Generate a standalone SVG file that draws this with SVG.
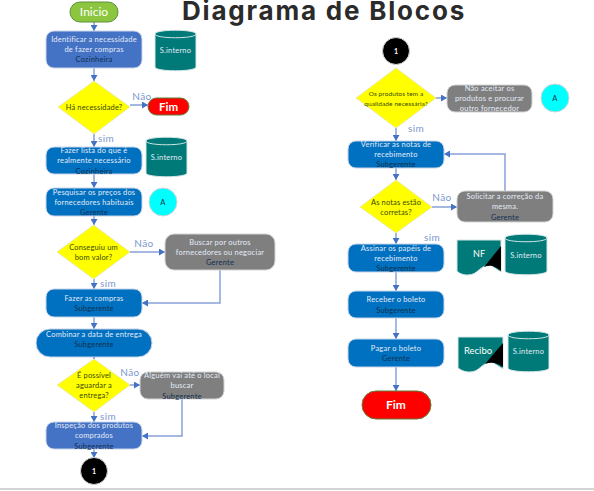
<svg xmlns="http://www.w3.org/2000/svg" width="594" height="491" viewBox="0 0 594 491">
<defs>
<marker id="ah" markerUnits="userSpaceOnUse" markerWidth="7" markerHeight="7" refX="6" refY="3.5" orient="auto"><path d="M0 0L6 3.5L0 7Z" fill="#4472C4"/></marker>
</defs>
<style>
text{font-family:Lato,"Liberation Sans",sans-serif;text-anchor:middle}
.t{font-size:7.5px;fill:#e3ebf7;letter-spacing:.2px}
.p{font-size:7.5px;fill:#10304f;letter-spacing:.2px}
.d{font-size:7.5px;fill:#3a4a00;letter-spacing:.15px}
.l{font-size:10px;fill:#7b97cf;letter-spacing:.4px}
.b{fill:#4472C4;stroke:#c9d5ea;stroke-width:1}
.c{fill:#0070C0;stroke:#c9d5ea;stroke-width:1}
.g{fill:#7f7f7f;stroke:#d4d4d4;stroke-width:1}
.y{fill:#FFFF00;stroke:#e3e3c0;stroke-width:.7}
.teal{fill:#007A78;stroke:#d5e5e5;stroke-width:1}
.top{fill:none;stroke:#cfe4e4;stroke-width:1}
.line{fill:none;stroke:#87a1d8;stroke-width:1.5;marker-end:url(#ah)}
.red{fill:#FF0000;stroke:#5f7f3a;stroke-width:1}
.fim{font-weight:700;fill:#fff}
</style>
<rect x="0" y="0" width="594" height="491" fill="#fff"/>
<rect x="0" y="488" width="594" height="2" fill="#d4d4d4"/>
<text id="title" x="324" y="20" style="font-family:Inter,'Liberation Sans',sans-serif;font-size:26px;font-weight:700;fill:#2b2b2b;letter-spacing:1.800px">Diagrama de Blocos</text>
<g id="connectors">
<path class="line" d="M94 22V31"/>
<path class="line" d="M94 68V81"/>
<path class="line" d="M130 105H148"/>
<path class="line" d="M94 134V147"/>
<path class="line" d="M94 174V188"/>
<path class="line" d="M94 216V225"/>
<path class="line" d="M130 252H165"/>
<path class="line" d="M94 279V289"/>
<path class="line" d="M220 270V303H142"/>
<path class="line" d="M94 317V329"/>
<path class="line" d="M94 357V359"/>
<path class="line" d="M130 385H140"/>
<path class="line" d="M94 412V422"/>
<path class="line" d="M182 399V436H142"/>
<path class="line" d="M94 449V458"/>
<path class="line" d="M436 98H447"/>
<path class="line" d="M396 128V141"/>
<path class="line" d="M396 168V180"/>
<path class="line" d="M432 207H457"/>
<path class="line" d="M505 191V154H444"/>
<path class="line" d="M396 233V244"/>
<path class="line" d="M396 272V291"/>
<path class="line" d="M396 318V339"/>
<path class="line" d="M396 367V391"/>
</g>
<g id="labels">
<text class="l" x="142" y="100">Não</text>
<text class="l" x="106" y="142">sim</text>
<text class="l" x="144" y="247">Não</text>
<text class="l" x="108" y="287">sim</text>
<text class="l" x="130" y="376">Não</text>
<text class="l" x="108" y="419.500">sim</text>
<text class="l" x="416" y="132">sim</text>
<text class="l" x="442" y="201">Não</text>
<text class="l" x="432" y="241">sim</text>
</g>
<g id="inicio"><rect x="70" y="2" width="48" height="20" rx="10" fill="#8CC63F" stroke="#5f8f3a"/><text x="94" y="16" style="font-size:12px;fill:#fff">Inicio</text></g>
<g id="n1"><rect class="b" x="46" y="31" width="96" height="37" rx="8"/><text class="t" x="94" y="42">Identificar a necessidade</text><text class="t" x="94" y="52">de fazer compras</text><text class="p" x="94" y="62">Cozinheira</text></g>
<g id="cyl1"><path class="teal" d="M155 34C155 29 196 29 196 34V67C196 72 155 72 155 67Z"/><path class="top" d="M155 34C155 39 196 39 196 34"/><text class="t" x="175.500" y="53">S.interno</text></g>
<g id="d1"><path class="y" d="M94 81L130 107L94 134L58 107Z"/><text class="d" x="94" y="110">Há necessidade?</text></g>
<g id="fim1"><rect class="red" x="148" y="98" width="41" height="17" rx="8.500"/><text class="fim" x="168.500" y="110.500" style="font-size:11.500px">Fim</text></g>
<g id="n2"><rect class="c" x="46" y="147" width="96" height="27" rx="8"/><text class="t" x="94" y="153">Fazer lista do que é</text><text class="t" x="94" y="163">realmente necessário</text><text class="p" x="94" y="174">Cozinheira</text></g>
<g id="cyl2"><path class="teal" d="M146 141C146 136 187 136 187 141V173C187 178 146 178 146 173Z"/><path class="top" d="M146 141C146 146 187 146 187 141"/><text class="t" x="166.500" y="160">S.interno</text></g>
<g id="n3"><rect class="c" x="46" y="188" width="96" height="28" rx="8"/><text class="t" x="94" y="195">Pesquisar os preços dos</text><text class="t" x="94" y="205">fornecedores habituais</text><text class="p" x="94" y="215">Gerente</text></g>
<g id="a1"><circle cx="163" cy="202" r="14" fill="#00FFFF" stroke="#d5d5d5"/><text class="p" x="163" y="205">A</text></g>
<g id="d2"><path class="y" d="M93.500 225L130 252L93.500 279L57 252Z"/><text class="d" x="93.500" y="250">Conseguiu um</text><text class="d" x="93.500" y="260">bom valor?</text></g>
<g id="g1"><rect class="g" x="165" y="234" width="110" height="36" rx="9"/><text class="t" x="220" y="245">Buscar por outros</text><text class="t" x="220" y="255">fornecedores ou negociar</text><text class="p" x="220" y="265">Gerente</text></g>
<g id="n4"><rect class="c" x="46" y="289" width="96" height="28" rx="8"/><text class="t" x="94" y="301">Fazer as compras</text><text class="p" x="94" y="311">Subgerente</text></g>
<g id="n5"><rect class="c" x="36" y="329" width="116" height="28" rx="14"/><text class="t" x="94" y="337">Combinar a data de entrega</text><text class="p" x="94" y="347">Subgerente</text></g>
<g id="d3"><path class="y" d="M94 359L130 385L94 412L57 385Z"/><text class="d" x="94" y="378">É possível</text><text class="d" x="94" y="388">aguardar a</text><text class="d" x="94" y="398">entrega?</text></g>
<g id="g2"><rect class="g" x="140" y="372" width="84" height="27" rx="8"/><text class="t" x="182" y="378">Alguém vai até o local</text><text class="t" x="182" y="388">buscar</text><text class="p" x="182" y="399">Subgerente</text></g>
<g id="n6"><rect class="b" x="46" y="422" width="96" height="27" rx="8"/><text class="t" x="94" y="428">Inspeção dos produtos</text><text class="t" x="94" y="438">comprados</text><text class="p" x="94" y="449">Subgerente</text></g>
<g id="c1"><circle cx="94" cy="471" r="13.500" fill="#000" stroke="#d5d5d5"/><text x="94" y="474" style="font-size:7px;fill:#fff;font-weight:700">1</text></g>
<g id="c2"><circle cx="396" cy="51" r="13.500" fill="#000" stroke="#d5d5d5"/><text x="396" y="54" style="font-size:7px;fill:#fff;font-weight:700">1</text></g>
<g id="d4"><path class="y" d="M396 68L436 98L396 128L356 98Z"/><text class="d" x="396" y="96" style="font-size:6.500px;letter-spacing:.1px">Os produtos tem a</text><text class="d" x="396" y="106" style="font-size:6.500px;letter-spacing:.1px">qualidade necessária?</text></g>
<g id="g3"><rect class="g" x="447" y="85" width="85" height="27" rx="8"/><text class="t" x="489.500" y="91">Não aceitar os</text><text class="t" x="489.500" y="101">produtos e procurar</text><text class="t" x="489.500" y="111">outro fornecedor</text></g>
<g id="a2"><circle cx="555" cy="98" r="14" fill="#00FFFF" stroke="#d5d5d5"/><text class="p" x="555" y="101">A</text></g>
<g id="n7"><rect class="c" x="348" y="141" width="96" height="27" rx="8"/><text class="t" x="396" y="147">Verificar as notas de</text><text class="t" x="396" y="157">recebimento</text><text class="p" x="396" y="167">Subgerente</text></g>
<g id="d5"><path class="y" d="M396 180L432 207L396 233L360 207Z"/><text class="d" x="396" y="205">As notas estão</text><text class="d" x="396" y="215">corretas?</text></g>
<g id="g4"><rect class="g" x="457" y="191" width="96" height="31" rx="8"/><text class="t" x="505" y="199">Solicitar a correção da</text><text class="t" x="505" y="209">mesma.</text><text class="p" x="505" y="220">Gerente</text></g>
<g id="n8"><rect class="c" x="348" y="244" width="96" height="28" rx="8"/><text class="t" x="396" y="251">Assinar os papéis de</text><text class="t" x="396" y="261">recebimento</text><text class="p" x="396" y="271">Subgerente</text></g>
<g id="doc1"><path class="teal" d="M457 240H501V272L490 265C480 265 478 275 468 275C462 275 459 273 457 271Z"/><path d="M501 246V271C494 265 490 265 484 267Z" fill="#000"/><text x="479" y="257" style="font-size:9px;fill:#fff">NF</text></g>
<g id="cyl3"><path class="teal" d="M505 238C505 233 547 233 547 238V271C547 276 505 276 505 271Z"/><path class="top" d="M505 238C505 243 547 243 547 238"/><text class="t" x="526" y="258">S.interno</text></g>
<g id="n9"><rect class="c" x="348" y="291" width="96" height="27" rx="8"/><text class="t" x="396" y="302">Receber o boleto</text><text class="p" x="396" y="313">Subgerente</text></g>
<g id="n10"><rect class="c" x="348" y="339" width="96" height="28" rx="8"/><text class="t" x="396" y="351">Pagar o boleto</text><text class="p" x="396" y="361">Gerente</text></g>
<g id="doc2"><path class="teal" d="M458 337H503V369L492 362C482 362 480 372 470 372C464 372 461 370 458 368Z"/><path d="M503 343V367C496 362 491 362 485 364Z" fill="#000"/><text x="478" y="354" style="font-size:9.500px;fill:#fff">Recibo</text></g>
<g id="cyl4"><path class="teal" d="M508 335C508 330 549 330 549 335V368C549 373 508 373 508 368Z"/><path class="top" d="M508 335C508 340 549 340 549 335"/><text class="t" x="528.500" y="354">S.interno</text></g>
<g id="fim2"><rect class="red" x="362" y="391" width="69" height="28" rx="14"/><text class="fim" x="396" y="409" style="font-size:12px">Fim</text></g>
</svg>
